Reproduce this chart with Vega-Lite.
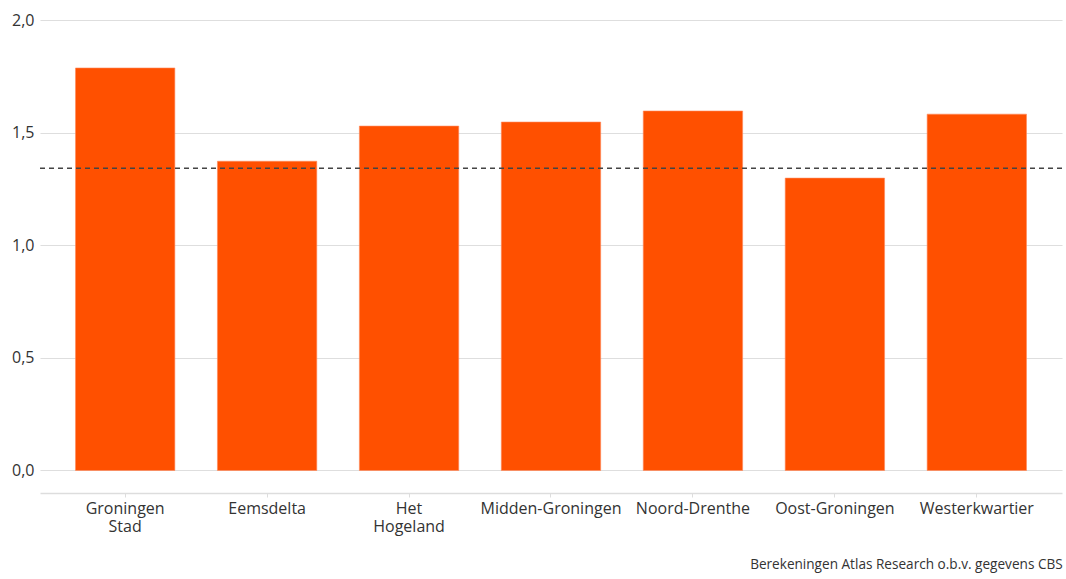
{
  "$schema": "https://vega.github.io/schema/vega-lite/v6.json",
  "width": 1022,
  "height": 473,
  "autosize": {"type": "none"},
  "padding": {"left": 40, "top": 20, "right": 4, "bottom": 86},
  "background": "white",
  "config": {
    "font": "Open Sans",
    "view": {"stroke": null},
    "axis": {"labelFont": "Open Sans", "labelColor": "#333333", "labelFontSize": 16}
  },
  "title": {
    "text": "Berekeningen Atlas Research o.b.v. gegevens CBS",
    "orient": "bottom",
    "anchor": "end",
    "fontSize": 13.6,
    "fontWeight": "normal",
    "color": "#333333",
    "font": "Open Sans",
    "offset": 24
  },
  "layer": [
    {
      "data": {
        "values": [
          {"regio": "Groningen|Stad", "waarde": 1.787},
          {"regio": "Eemsdelta", "waarde": 1.373},
          {"regio": "Het|Hogeland", "waarde": 1.529},
          {"regio": "Midden-Groningen", "waarde": 1.547},
          {"regio": "Noord-Drenthe", "waarde": 1.596},
          {"regio": "Oost-Groningen", "waarde": 1.298},
          {"regio": "Westerkwartier", "waarde": 1.582}
        ]
      },
      "mark": {"type": "bar", "color": "#FF5000", "stroke": "#ff8a5c", "strokeWidth": 0.6},
      "encoding": {
        "x": {
          "field": "regio",
          "type": "nominal",
          "sort": null,
          "title": null,
          "scale": {"paddingInner": 0.3, "paddingOuter": 0.25},
          "axis": {
            "labelAngle": 0,
            "labelExpr": "split(datum.label, '|')",
            "labelLineHeight": 18,
            "domainColor": "#dddddd",
            "domainWidth": 1.5,
            "tickColor": "#dddddd",
            "tickSize": 4,
            "labelPadding": 3,
            "labelBaseline": "top"
          }
        },
        "y": {
          "field": "waarde",
          "type": "quantitative",
          "title": null,
          "scale": {"domain": [-0.1, 2.0], "nice": false, "zero": false},
          "axis": {
            "values": [0, 0.5, 1, 1.5, 2],
            "labelExpr": "replace(format(datum.value, '.1f'), '.', ',')",
            "domain": false,
            "ticks": false,
            "gridColor": "#dedede",
            "gridWidth": 1.2,
            "labelPadding": 6
          }
        }
      }
    },
    {
      "data": {"values": [{"gemiddelde": 1.342}]},
      "mark": {"type": "rule", "color": "#444444", "strokeDash": [5, 4], "strokeWidth": 1.4},
      "encoding": {
        "y": {"field": "gemiddelde", "type": "quantitative"}
      }
    }
  ]
}
